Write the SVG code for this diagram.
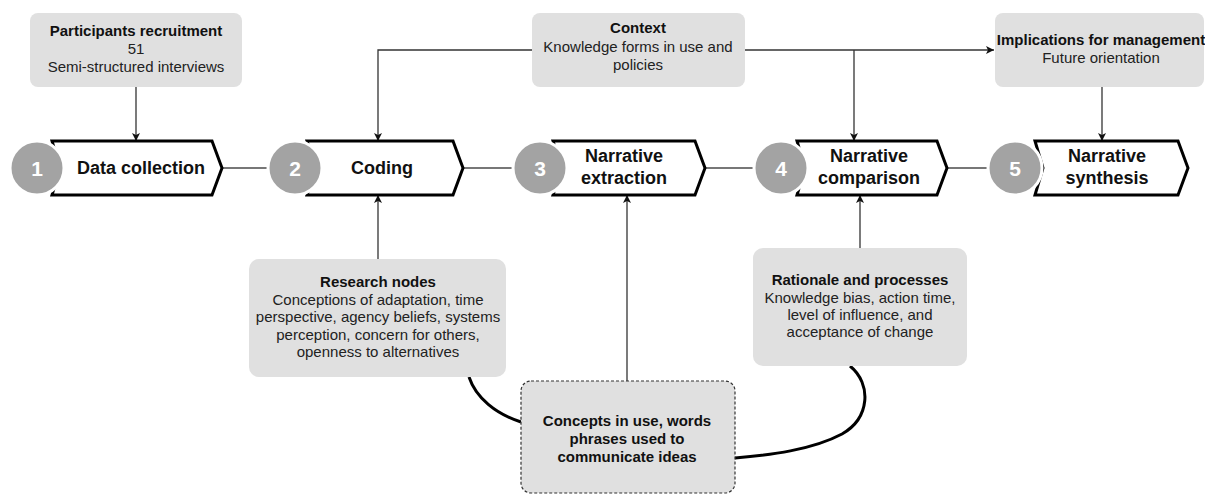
<svg xmlns="http://www.w3.org/2000/svg" width="1205" height="495" viewBox="0 0 1205 495">
<defs>
<marker id="ah" viewBox="0 0 10 10" refX="10" refY="5" markerWidth="8" markerHeight="8" markerUnits="userSpaceOnUse" orient="auto">
<path d="M0,0 L10,5 L0,10 L2.5,5 z" fill="#111"/>
</marker>
<style>
.box{fill:#e0e0e0;stroke:none}
.dbox{fill:#e0e0e0;stroke:#333;stroke-width:1.2;stroke-dasharray:3 2}
.chev{fill:#fff;stroke:#000;stroke-width:3;stroke-linejoin:miter}
.circ{fill:#a3a3a3;stroke:#fff;stroke-width:3}
.num{font-family:"Liberation Sans",Arial,sans-serif;font-weight:bold;font-size:21px;fill:#fff;text-anchor:middle}
.lab{font-family:"Liberation Sans",Arial,sans-serif;font-weight:bold;font-size:18px;fill:#111;text-anchor:middle}
.t{font-family:"Liberation Sans",Arial,sans-serif;font-size:15px;fill:#222;text-anchor:middle}
.tb{font-family:"Liberation Sans",Arial,sans-serif;font-size:15px;font-weight:bold;fill:#111;text-anchor:middle}
.link{fill:none;stroke:#777;stroke-width:2}
.arr{fill:none;stroke:#333;stroke-width:1.3;marker-end:url(#ah)}
.thick{fill:none;stroke:#000;stroke-width:3}
</style>
</defs>

<g id="connectors">
<line class="link" x1="222" y1="168" x2="268" y2="168"/>
<line class="link" x1="463" y1="168" x2="513" y2="168"/>
<line class="link" x1="705" y1="168" x2="754" y2="168"/>
<line class="link" x1="947" y1="168" x2="988" y2="168"/>
<line class="arr" x1="136" y1="87" x2="136" y2="141"/>
<polyline class="arr" points="532,50 378,50 378,141"/>
<line class="arr" x1="745" y1="50" x2="994" y2="50"/>
<line class="arr" x1="854" y1="50" x2="854" y2="141"/>
<line class="arr" x1="1102" y1="87" x2="1102" y2="141"/>
<line class="arr" x1="378" y1="259" x2="378" y2="195"/>
<line class="arr" x1="627" y1="381" x2="627" y2="195"/>
<line class="arr" x1="860" y1="248" x2="860" y2="195"/>
<path class="thick" d="M469,377 C476,398 496,414 521,422"/>
<path class="thick" d="M850,366 C872,384 870,418 842,434 C812,450 770,455 735,458"/>
</g>

<g id="step1">
<polygon class="chev" points="52,141 212,141 222,168 212,195 52,195 60,168"/>
<circle class="circ" cx="37" cy="168" r="27"/>
<text class="num" x="37" y="176">1</text>
<text class="lab" x="141" y="174">Data collection</text>
</g>
<g id="step2">
<polygon class="chev" points="307,141 453,141 463,168 453,195 307,195 315,168"/>
<circle class="circ" cx="295" cy="168" r="27"/>
<text class="num" x="295" y="176">2</text>
<text class="lab" x="382" y="174">Coding</text>
</g>
<g id="step3">
<polygon class="chev" points="553,141 695,141 705,168 695,195 553,195 561,168"/>
<circle class="circ" cx="540" cy="168" r="27"/>
<text class="num" x="540" y="176">3</text>
<text class="lab" x="624" y="162">Narrative</text>
<text class="lab" x="624" y="184">extraction</text>
</g>
<g id="step4">
<polygon class="chev" points="797,141 937,141 947,168 937,195 797,195 805,168"/>
<circle class="circ" cx="781" cy="168" r="27"/>
<text class="num" x="781" y="176">4</text>
<text class="lab" x="869" y="162">Narrative</text>
<text class="lab" x="869" y="184">comparison</text>
</g>
<g id="step5">
<polygon class="chev" points="1035,141 1178,141 1188,168 1178,195 1035,195 1043,168"/>
<circle class="circ" cx="1015" cy="168" r="27"/>
<text class="num" x="1015" y="176">5</text>
<text class="lab" x="1107" y="162">Narrative</text>
<text class="lab" x="1107" y="184">synthesis</text>
</g>

<g id="participants">
<rect class="box" x="30" y="13" width="212" height="74" rx="8"/>
<text class="tb" x="136" y="36">Participants recruitment</text>
<text class="t" x="136" y="54">51</text>
<text class="t" x="136" y="72">Semi-structured interviews</text>
</g>
<g id="context">
<rect class="box" x="532" y="13" width="213" height="74" rx="8"/>
<text class="tb" x="638" y="33">Context</text>
<text class="t" x="638" y="52">Knowledge forms in use and</text>
<text class="t" x="638" y="70">policies</text>
</g>
<g id="implications">
<rect class="box" x="995" y="13" width="209" height="74" rx="8"/>
<text class="tb" x="1101" y="45">Implications for management</text>
<text class="t" x="1101" y="63">Future orientation</text>
</g>
<g id="research">
<rect class="box" x="249" y="259" width="257" height="118" rx="10"/>
<text class="tb" x="378" y="287">Research nodes</text>
<text class="t" x="378" y="305">Conceptions of adaptation, time</text>
<text class="t" x="378" y="322">perspective, agency beliefs, systems</text>
<text class="t" x="378" y="340">perception, concern for others,</text>
<text class="t" x="378" y="357">openness to alternatives</text>
</g>
<g id="rationale">
<rect class="box" x="753" y="248" width="214" height="118" rx="10"/>
<text class="tb" x="860" y="285">Rationale and processes</text>
<text class="t" x="860" y="303">Knowledge bias, action time,</text>
<text class="t" x="860" y="320">level of influence, and</text>
<text class="t" x="860" y="337">acceptance of change</text>
</g>
<g id="concepts">
<rect class="dbox" x="521" y="381" width="214" height="112" rx="10"/>
<text class="tb" x="627" y="426">Concepts in use, words</text>
<text class="tb" x="627" y="444">phrases used to</text>
<text class="tb" x="627" y="462">communicate ideas</text>
</g>
</svg>
